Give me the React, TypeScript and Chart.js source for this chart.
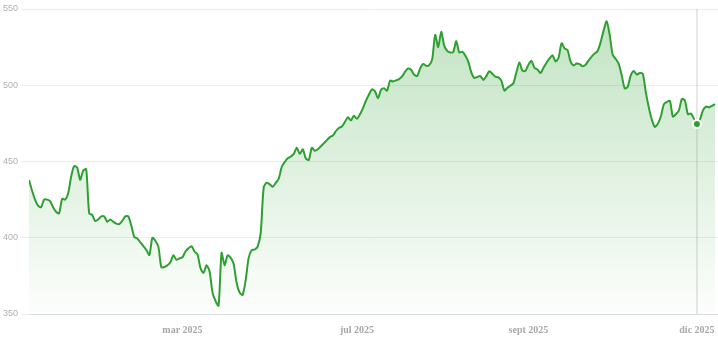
import React, { useEffect, useRef } from "react";
import { Chart, registerables } from "chart.js";

Chart.register(...registerables);

// Daily closing values (evenly spaced sessions)
const values: number[] = [
  437.9, 431, 425, 421, 420, 425, 425, 424, 420, 417,
  416, 425.5, 425, 429, 440, 447, 446, 438, 444, 445,
  416, 415, 411, 412, 414, 414, 410.5, 412, 410.5, 409.3,
  409, 411, 414, 414, 408, 400.5, 399.5, 397, 394.5, 392,
  388.7, 400, 398, 394, 380.6, 380.8, 382, 384, 388.5, 385.5,
  386.5, 387.2, 391, 393.1, 394.5, 391, 389, 380, 377, 382,
  378, 364, 358.5, 355.5, 390, 382, 388.5, 387, 383, 370.5,
  364, 362.5, 372, 386.8, 391.8, 392.3, 394.2, 403, 433, 436.1,
  435, 433.5, 436, 438.7, 446.5, 449.7, 452.1, 453.2, 455, 459,
  455, 458, 452, 451, 459, 457, 458, 460, 462, 464,
  466, 467, 470, 472, 473, 476, 479, 477, 480, 478,
  481, 485, 490, 494, 497.3, 496, 491.5, 497, 498, 496.4,
  503, 502.5, 503.2, 504, 505.8, 509, 511, 510.2, 507, 506,
  511, 514, 512.7, 513.2, 517, 533, 525, 535, 526, 522.5,
  521.5, 521.8, 529, 521.5, 522, 519.5, 515.5, 508.5, 504.8, 505.5,
  506, 503.5, 506, 509.2, 507.6, 505.6, 505.2, 503, 496.5, 498.3,
  499.7, 501.3, 508.5, 515, 509.5, 509.5, 513.5, 516, 511.5, 510.3,
  508, 511.5, 514.8, 517.6, 519.6, 515.6, 518, 527.5, 524.2, 523,
  515.5, 513, 514.2, 513.8, 512.5, 513.5, 516.3, 518.8, 520.8, 522.5,
  528.3, 536, 542, 533, 520, 517.3, 514, 506.5, 498, 499,
  506.5, 509.4, 507, 508, 507.5, 495.5, 485.5, 477.5, 472.7, 474.8,
  479.5, 487.5, 489, 489.8, 479.5, 481, 483.5, 491, 490, 481,
  481.5, 478, 474.6, 477.5, 483.5, 486, 485.5, 486.5, 487.7,
];

// Month tick labels and the session index where each one sits
const tickLabels: string[] = ["mar 2025", "jul 2025", "sept 2025", "dic 2025"];
const tickIndex: number[] = [51, 109, 166, 222];

// Y axis ticks
const yTicks: number[] = [350, 400, 450, 500, 550];

// Highlighted (hovered) session
const hoverIndex = 222;

const LINE = "rgb(46,160,50)";

export default function App() {
  const ref = useRef<HTMLCanvasElement | null>(null);

  useEffect(() => {
    document.body.style.margin = "0";
    const canvas = ref.current!;
    const crosshair = {
      id: "crosshair",
      beforeDatasetsDraw(chart: any) {
        const { ctx, chartArea, scales } = chart;
        const x = scales.x.getPixelForValue(hoverIndex);
        ctx.save();
        ctx.strokeStyle = "rgba(0,0,0,0.12)";
        ctx.lineWidth = 1.5;
        ctx.beginPath();
        ctx.moveTo(x, chartArea.top);
        ctx.lineTo(x, chartArea.bottom);
        ctx.stroke();
        ctx.restore();
      },
    };

    const chart = new Chart(canvas, {
      type: "line",
      data: {
        datasets: [
          {
            data: values.map((v, i) => ({ x: i, y: v })),
            borderColor: LINE,
            borderWidth: 2,
            tension: 0.25,
            fill: "start",
            backgroundColor: (c: any) => {
              const area = c.chart.chartArea;
              if (!area) return "rgba(46,160,50,0.2)";
              const g = c.chart.ctx.createLinearGradient(0, area.top, 0, area.bottom);
              g.addColorStop(0, "rgba(46,160,50,0.30)");
              g.addColorStop(1, "rgba(46,160,50,0.01)");
              return g;
            },
            pointRadius: (c: any) => (c.dataIndex === hoverIndex ? 4 : 0),
            pointBackgroundColor: LINE,
            pointBorderColor: "#ffffff",
            pointBorderWidth: 2,
            pointHoverRadius: 0,
          },
        ],
      },
      options: {
        animation: false,
        responsive: false,
        devicePixelRatio: 1,
        events: [],
        layout: { padding: { top: 9, left: 0, right: 0, bottom: 2 } },
        plugins: { legend: { display: false }, tooltip: { enabled: false } },
        scales: {
          x: {
            type: "linear",
            min: 0,
            max: values.length,
            afterBuildTicks: (s: any) => {
              s.ticks = tickIndex.map((v) => ({ value: v }));
            },
            grid: { display: false },
            border: { display: true, color: "#dddddd" },
            ticks: {
              autoSkip: false,
              maxRotation: 0,
              padding: 2,
              color: "#a8a8a8",
              font: { family: "'Liberation Serif', 'Times New Roman', serif", size: 10, weight: "bold" },
              callback: (v: any) => {
                const k = tickIndex.indexOf(Number(v));
                return k >= 0 ? tickLabels[k] : "";
              },
            },
          },
          y: {
            min: 350,
            max: 550,
            afterBuildTicks: (s: any) => {
              s.ticks = yTicks.map((v) => ({ value: v }));
            },
            grid: { color: "#ececec", tickLength: 8 },
            border: { display: false },
            ticks: {
              padding: 3,
              color: "#b0b0b0",
              font: { family: "'Liberation Sans', Arial, sans-serif", size: 9 },
            },
          },
        },
      },
      plugins: [crosshair],
    } as any);
    return () => chart.destroy();
  }, []);

  return (
    <div style={{ position: "absolute", left: 0, top: 0, width: 718, height: 340 }}>
      <canvas ref={ref} width={718} height={340} style={{ display: "block", width: 718, height: 340 }} />
    </div>
  );
}
